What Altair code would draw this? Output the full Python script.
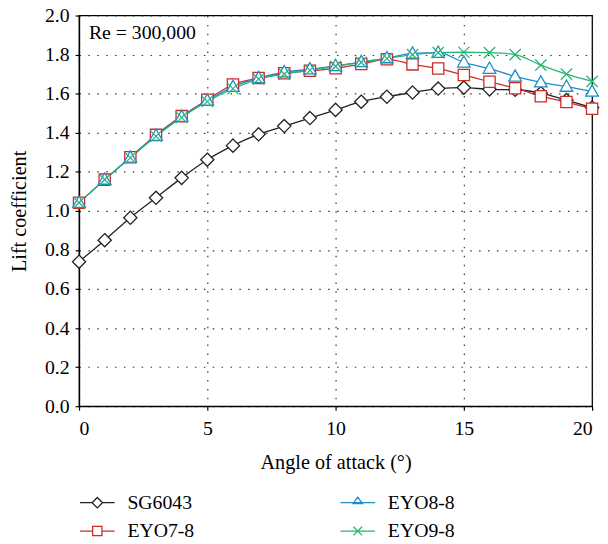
import altair as alt
import pandas as pd

angles = list(range(0, 21))
sg6043 = [0.74, 0.85, 0.965, 1.067, 1.169, 1.262, 1.334, 1.392, 1.434, 1.475, 1.517,
          1.559, 1.584, 1.606, 1.626, 1.631, 1.622, 1.62, 1.603, 1.567, 1.529]
eyo7_8 = [1.042, 1.16, 1.275, 1.389, 1.485, 1.569, 1.647, 1.68, 1.704, 1.717, 1.73,
          1.752, 1.776, 1.75, 1.729, 1.695, 1.661, 1.628, 1.587, 1.557, 1.523]
eyo8_8 = [1.042, 1.16, 1.273, 1.385, 1.482, 1.565, 1.635, 1.68, 1.71, 1.725, 1.742,
          1.762, 1.782, 1.806, 1.81, 1.76, 1.728, 1.688, 1.658, 1.636, 1.611]
eyo9_8 = [1.042, 1.16, 1.272, 1.382, 1.478, 1.56, 1.625, 1.675, 1.70, 1.72, 1.74,
          1.76, 1.78, 1.80, 1.81, 1.812, 1.81, 1.80, 1.746, 1.70, 1.663]

series_names = ["SG6043", "EYO7-8", "EYO8-8", "EYO9-8"]
series_colors = ["#222222", "#cc2b2b", "#1f8ccc", "#2bb673"]
marker_paths = [
    "M0,-1L1,0L0,1L-1,0Z",
    "M-0.85,-0.85L0.85,-0.85L0.85,0.85L-0.85,0.85Z",
    "M0,-1L0.95,0.7L-0.95,0.7Z",
    "M-0.85,-0.85L0.85,0.85M-0.85,0.85L0.85,-0.85",
]
legend_paths = [
    "M-1,0L-0.3,0M0.3,0L1,0M0,-0.3L0.3,0L0,0.3L-0.3,0Z",
    "M-1,0L-0.27,0M0.27,0L1,0M-0.27,-0.27L0.27,-0.27L0.27,0.27L-0.27,0.27Z",
    "M-1,0L1,0M0,-0.32L0.27,0.06L-0.27,0.06Z",
    "M-1,0L1,0M-0.25,-0.25L0.25,0.25M-0.25,0.25L0.25,-0.25",
]
annotation = "Re = 300,000"
annotation_pos = {"angle": 0, "cl": 2.0}

rows = []
for name, vals in zip(series_names, [sg6043, eyo7_8, eyo8_8, eyo9_8]):
    for a, v in zip(angles, vals):
        rows.append({"angle": a, "cl": v, "series": name})
df = pd.DataFrame(rows)

FONT = "Liberation Serif"

xenc = alt.X("angle:Q", title="Angle of attack (°)",
             scale=alt.Scale(domain=[0, 20], nice=False),
             axis=alt.Axis(values=[0, 5, 10, 15, 20], labelPadding=9, titlePadding=14,
                           labelOverlap=False))
yenc = alt.Y("cl:Q", title="Lift coefficient",
             scale=alt.Scale(domain=[0, 2.0], nice=False),
             axis=alt.Axis(values=[0, 0.2, 0.4, 0.6, 0.8, 1.0, 1.2, 1.4, 1.6, 1.8, 2.0],
                           format=".1f", labelPadding=6, titlePadding=15, labelOverlap=False))

color_scale = alt.Scale(domain=series_names, range=series_colors)

base = alt.Chart(df)

lines = base.mark_line(interpolate="monotone", strokeWidth=1.3).encode(
    x=xenc, y=yenc,
    color=alt.Color("series:N", scale=color_scale, legend=None),
    detail="series:N",
)

points = base.mark_point(filled=False, fill="white", strokeWidth=1.3, size=180, opacity=1).encode(
    x=xenc, y=yenc,
    color=alt.Color("series:N", scale=color_scale, legend=None),
    shape=alt.Shape("series:N", scale=alt.Scale(domain=series_names, range=marker_paths), legend=None),
)

leg = alt.Legend(orient="none", legendX=0, legendY=475, columns=2, title=None,
                 symbolSize=1225, symbolStrokeWidth=1.3, symbolFillColor="white",
                 symbolOpacity=1, labelFont=FONT, labelFontSize=20, labelColor="black",
                 labelOffset=12, columnPadding=145, rowPadding=-9)

legend_layer = base.mark_point(filled=False, fill="white", opacity=0).encode(
    x=xenc, y=yenc,
    stroke=alt.Stroke("series:N", scale=alt.Scale(domain=series_names, range=series_colors), legend=leg),
    shape=alt.Shape("series:N", scale=alt.Scale(domain=series_names, range=legend_paths), legend=leg),
)

text = alt.Chart(pd.DataFrame({"label": [annotation], "angle": [annotation_pos["angle"]],
                               "cl": [annotation_pos["cl"]]})).mark_text(
    align="left", baseline="middle", font=FONT, fontSize=20, dx=10, dy=18, color="black"
).encode(x=xenc, y=yenc, text="label:N")

chart = alt.layer(lines, points, legend_layer, text).resolve_scale(
    shape="independent", stroke="independent"
).resolve_legend(
    shape="independent", stroke="independent"
).properties(
    width=520, height=396,
    autosize=alt.AutoSizeParams(type="none"),
    padding={"left": 72, "top": 4, "right": 8, "bottom": 136},
).configure_view(
    stroke="black", strokeWidth=1.3
).configure_axis(
    labelFont=FONT, titleFont=FONT, labelFontSize=20, titleFontSize=20.5,
    labelColor="black", titleColor="black", titleFontWeight="normal",
    domainColor="black", domainWidth=1.3, tickColor="black", tickSize=4, tickWidth=1.2,
    grid=True, gridColor="#333333", gridDash=[1.5, 7.5], gridWidth=1.2,
).configure_axisX(labelAngle=0)

chart.save("out.html", embed_options={"renderer": "svg", "actions": False})
